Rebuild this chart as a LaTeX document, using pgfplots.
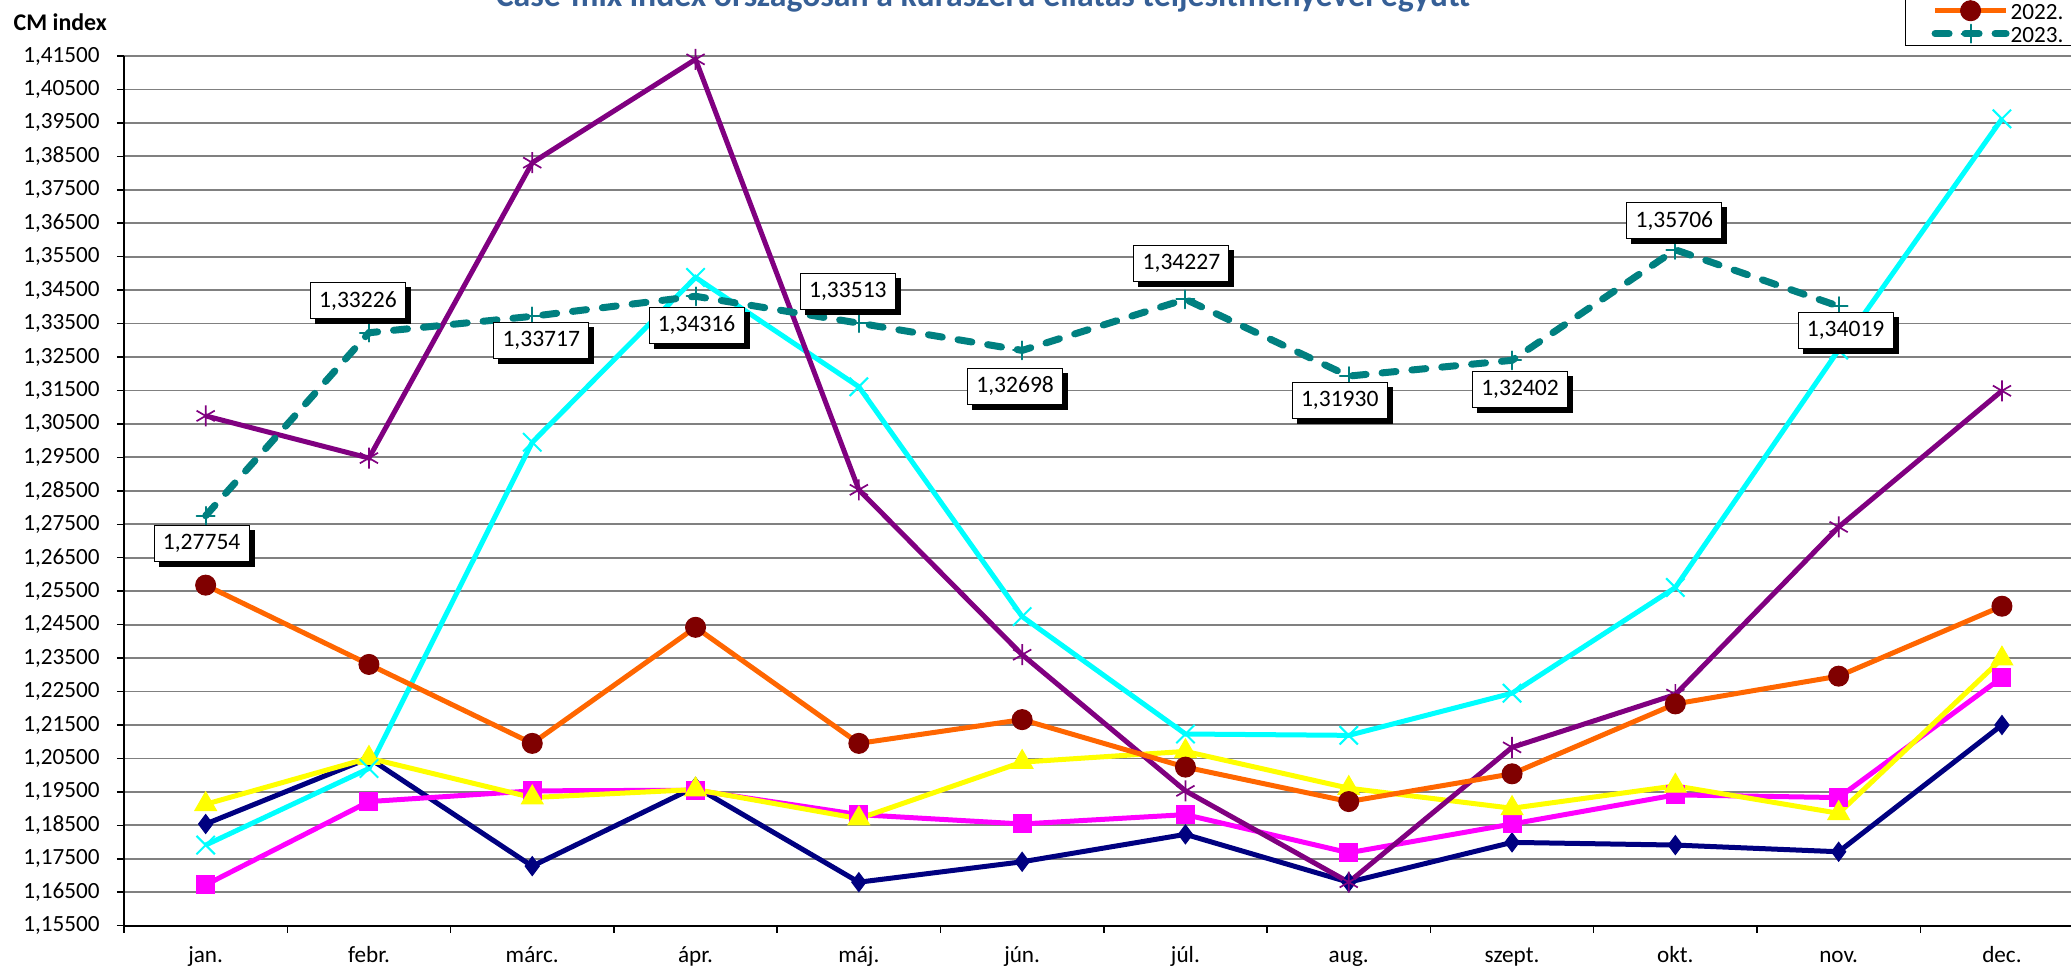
\documentclass[border=0pt]{standalone}
\usepackage{pgfplots}
\pgfplotsset{compat=1.18}
\usepackage{pgfplotstable}
\usepackage{fontspec}
\setmainfont{Carlito}
\usetikzlibrary{shadows}

\definecolor{c17}{HTML}{000080}
\definecolor{c18}{HTML}{FF00FF}
\definecolor{c19}{HTML}{FFFF00}
\definecolor{c20}{HTML}{00FFFF}
\definecolor{c21}{HTML}{800080}
\definecolor{c22}{HTML}{FF6600}
\definecolor{c22m}{HTML}{800000}
\definecolor{c23}{HTML}{008080}
\definecolor{titleblue}{HTML}{365F96}

\pgfplotstableread{
x y
0 1.1854
1 1.2051
2 1.1728
3 1.1965
4 1.1680
5 1.1741
6 1.1823
7 1.1680
8 1.1799
9 1.1791
10 1.1771
11 1.2150
}\dA
\pgfplotstableread{
x y
0 1.1672
1 1.1921
2 1.1953
3 1.1955
4 1.1882
5 1.1854
6 1.1882
7 1.1768
8 1.1854
9 1.1941
10 1.1933
11 1.2292
}\dB
\pgfplotstableread{
x y
0 1.1913
1 1.2051
2 1.1933
3 1.1957
4 1.1870
5 1.2039
6 1.2071
7 1.1961
8 1.1901
9 1.1968
10 1.1886
11 1.2348
}\dC
\pgfplotstableread{
x y
0 1.1791
1 1.2020
2 1.2995
3 1.3488
4 1.3161
5 1.2474
6 1.2123
7 1.2119
8 1.2245
9 1.2561
10 1.3271
11 1.3962
}\dD
\pgfplotstableread{
x y
0 1.3074
1 1.2948
2 1.3831
3 1.4140
4 1.2853
5 1.2360
6 1.1953
7 1.1680
8 1.2083
9 1.2241
10 1.2742
11 1.3149
}\dE
\pgfplotstableread{
x y
0 1.2568
1 1.2331
2 1.2095
3 1.2442
4 1.2095
5 1.2166
6 1.2024
7 1.1921
8 1.2004
9 1.2213
10 1.2296
11 1.2505
}\dF
\pgfplotstableread{
x y dx dy lab
0 1.27754 -4 -28 1,27754
1 1.33226 -11 32 1,33226
2 1.33717 9 -24 1,33717
3 1.34316 1 -29 1,34316
4 1.33513 -11 32 1,33513
5 1.32698 -7 -36 1,32698
6 1.34227 -4 36 1,34227
7 1.31930 -9 -24 1,31930
8 1.32402 8 -29 1,32402
9 1.35706 -1 29 1,35706
10 1.34019 7 -24 1,34019
}\dG

\begin{document}
\begin{tikzpicture}
\path[use as bounding box] (0,0) rectangle (20.71,9.71);
\clip (0,0) rectangle (20.71,9.71);
\node[anchor=base, font=\bfseries\fontsize{9.6}{11}\selectfont, text=titleblue, inner sep=0pt] at (9.83,9.64) {Case-mix index országosan a kúraszerű ellátás teljesítményével együtt};
\node[anchor=base west, font=\bfseries\fontsize{6.8}{8}\selectfont, inner sep=0pt] at (0.13,9.40) {CM index};
\begin{axis}[
  at={(1.24cm,0.453cm)}, anchor=south west,
  scale only axis, width=19.596cm, height=8.697cm,
  xmin=-0.5, xmax=11.5, ymin=1.155, ymax=1.415,
  axis x line*=bottom, axis y line*=left,
  axis line style={line width=0.02cm, black},
  xtick={-0.5,0.5,1.5,2.5,3.5,4.5,5.5,6.5,7.5,8.5,9.5,10.5,11.5},
  x tick label as interval,
  xticklabels={jan.,febr.,márc.,ápr.,máj.,jún.,júl.,aug.,szept.,okt.,nov.,dec.},
  ytick={1.155,1.165,1.175,1.185,1.195,1.205,1.215,1.225,1.235,1.245,1.255,1.265,1.275,1.285,1.295,1.305,1.315,1.325,1.335,1.345,1.355,1.365,1.375,1.385,1.395,1.405,1.415},
  tick align=outside, major tick length=0.07cm,
  tick style={line width=0.015cm, black},
  ymajorgrids, grid style={line width=0.018cm, gray},
  /pgf/number format/assume math mode=true,
  yticklabel style={/pgf/number format/fixed, /pgf/number format/fixed zerofill, /pgf/number format/precision=5, /pgf/number format/use comma, anchor=east, xshift=-0.05cm},
  tick label style={font=\fontsize{6.6}{7.8}\selectfont},
  xticklabel style={anchor=base, yshift=-0.30cm},
  clip=false,
  legend style={at={(axis description cs:0.9089,1.0118)}, anchor=south west,
    draw=black, line width=0.01cm, fill=white, inner xsep=0.26cm, inner ysep=0pt,
    font=\fontsize{6.6}{7.8}\selectfont, row sep=0pt,
    nodes={inner sep=0.01cm, text height=0.19cm, text depth=0.02cm}},
  legend cell align=left,
  legend image code/.code={\draw[mark repeat=2,mark phase=2,#1] plot coordinates {(0cm,0cm) (0.355cm,0cm) (0.71cm,0cm)};},
]
\addplot[forget plot, color=c17, line width=0.05cm, mark=diamond*, mark size=0.095cm, mark options={solid, fill=c17, line width=0.01cm}] table[x=x,y=y]{\dA};
\addplot[forget plot, color=c18, line width=0.05cm, mark=square*, mark size=0.09cm, mark options={solid, fill=c18, line width=0.01cm}] table[x=x,y=y]{\dB};
\addplot[forget plot, color=c19, line width=0.05cm, mark=triangle*, mark size=0.125cm, mark options={solid, fill=c19, line width=0.01cm}] table[x=x,y=y]{\dC};
\addplot[forget plot, color=c20, line width=0.05cm, mark=x, mark size=0.13cm, mark options={solid, line width=0.02cm}] table[x=x,y=y]{\dD};
\addplot[forget plot, color=c21, line width=0.05cm, mark=asterisk, mark size=0.105cm, mark options={solid, line width=0.017cm}] table[x=x,y=y]{\dE};
\addplot[color=c22, line width=0.05cm, mark=*, mark size=0.1cm, mark options={solid, fill=c22m, draw=c22m, line width=0.01cm}] table[x=x,y=y]{\dF};
\addlegendentry{2022.}
\addplot[color=c23, line width=0.07cm, line cap=round, dash pattern=on 0.14cm off 0.16cm, mark=+, mark size=0.09cm, mark options={solid, line width=0.02cm},
  point meta=explicit symbolic,
  visualization depends on={\thisrow{dx} \as \dx},
  visualization depends on={\thisrow{dy} \as \dy},
  nodes near coords={\pgfplotspointmeta},
  every node near coord/.style={anchor=center, xshift=\dx*0.01cm, yshift=\dy*0.01cm, draw=black, line width=0.01cm, fill=white, text=black, solid, minimum width=0.95cm, minimum height=0.36cm, inner sep=0pt, font=\fontsize{6.7}{7.8}\selectfont, drop shadow={shadow xshift=0.05cm, shadow yshift=-0.05cm, opacity=1, fill=black}},
] table[x=x,y=y,meta=lab]{\dG};
\addlegendentry{2023.}
\end{axis}
\end{tikzpicture}
\end{document}
